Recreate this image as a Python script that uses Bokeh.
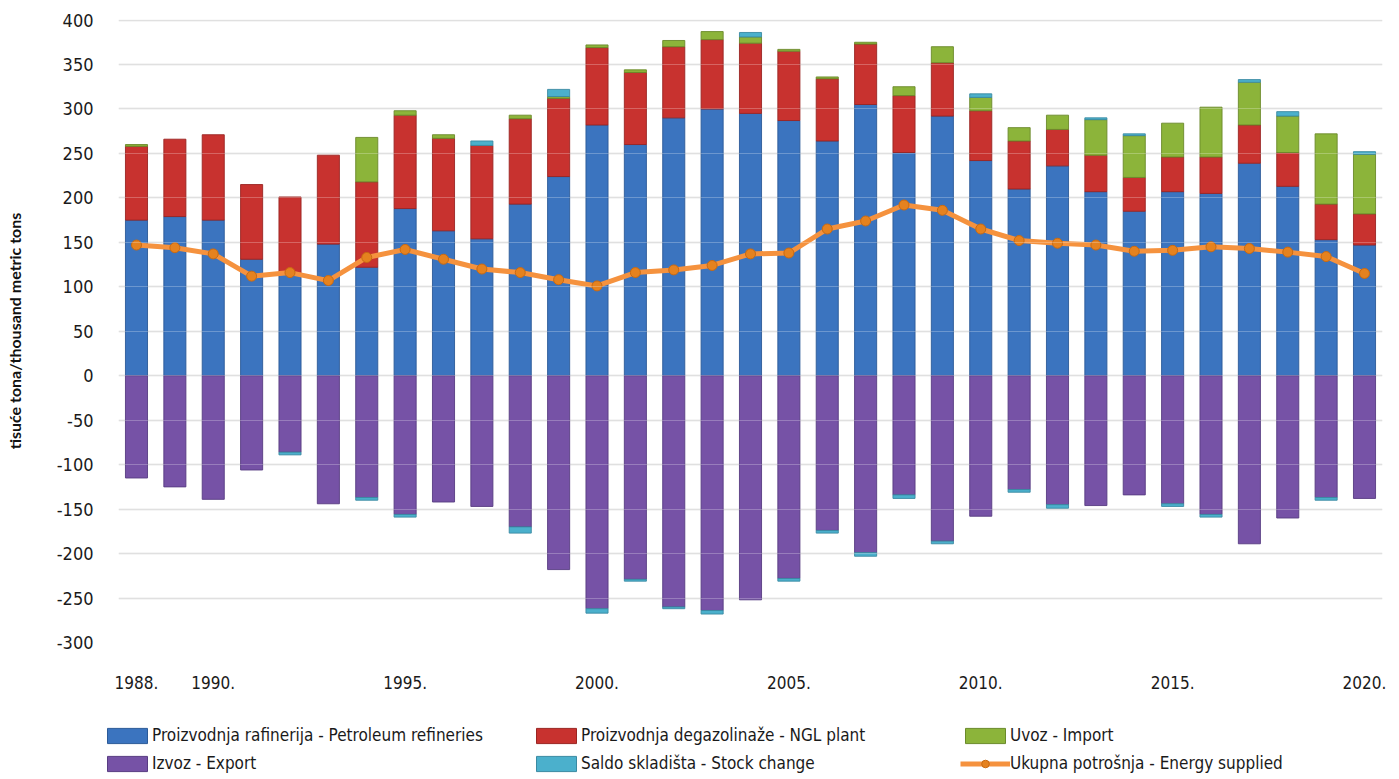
from bokeh.plotting import figure
from bokeh.layouts import column
from bokeh.models import ColumnDataSource, FixedTicker, Legend, LegendItem, Range1d, Grid
from bokeh.embed import file_html
from bokeh.resources import INLINE

# ---------------- data (thousand metric tons) ----------------
years = list(range(1988, 2021))
refineries = [175, 179, 175, 131, 114, 148, 122, 188, 163, 154, 193, 224, 282, 260, 290,
              300, 295, 287, 264, 305, 251, 292, 242, 210, 236, 207, 185, 207, 205, 239,
              213, 153, 147]
ngl_plant = [83, 87, 96, 84, 87, 100, 96, 105, 104, 105, 96, 88, 87, 81, 80,
             78, 79, 78, 70, 68, 64, 60, 56, 54, 41, 41, 38, 39, 41, 43,
             38, 40, 35]
imports = [2, 0, 0, 0, 0, 0, 50, 5, 4, 0, 4, 2, 3, 3, 7,
           9, 7, 2, 2, 2, 10, 18, 15, 15, 16, 40, 47, 38, 56, 48,
           41, 79, 67]
stock_change = [0, 0, 0, 0, -3, 0, -3, -3, 0, 5, -7, 8, -5, -2, -2,
                -4, 5, -3, -3, -4, -4, -3, 4, -3, -4, 2, 2, -3, -3, 3,
                5, -3, 3]
exports = [-115, -125, -139, -106, -86, -144, -137, -156, -142, -147, -170, -218, -262, -229, -260,
           -264, -252, -228, -174, -199, -134, -186, -158, -128, -145, -146, -134, -144, -156, -189,
           -160, -137, -138]
energy_supplied = [147, 144, 137, 112, 116, 107, 133, 142, 131, 120, 116, 108, 101, 116, 119,
                   124, 137, 138, 165, 174, 192, 186, 165, 152, 149, 147, 140, 141, 145, 143,
                   139, 134, 115]

y_ticks = list(range(-300, 401, 50))
x_tick_years = [1988, 1990, 1995, 2000, 2005, 2010, 2015, 2020]
series_labels = [
    "Proizvodnja rafinerija - Petroleum refineries",
    "Proizvodnja degazolinaže - NGL plant",
    "Uvoz - Import",
    "Izvoz - Export",
    "Saldo skladišta - Stock change",
    "Ukupna potrošnja - Energy supplied",
]
y_title = "tisuće tona/thousand metric tons"

# ---------------- styling ----------------
C_BLUE, E_BLUE = "#3b74bf", "#2b5a98"
C_RED, E_RED = "#c8322f", "#9a2522"
C_GREEN, E_GREEN = "#8cb43a", "#6a8a2a"
C_PURPLE, E_PURPLE = "#7652a6", "#583c82"
C_CYAN, E_CYAN = "#4bb0cc", "#3a8aa2"
C_ORANGE = "#f5923e"
C_MARK = "#e5821f"
C_MARK_EDGE = "#c96a12"
FONT = "DejaVu Sans Condensed"

stock_pos = [max(s, 0) for s in stock_change]
stock_neg = [min(s, 0) for s in stock_change]


def edge_alpha(vals):
    # outline only the segments that actually exist
    return [0.9 if v != 0 else 0.0 for v in vals]


src = ColumnDataSource(dict(
    year=years, ref=refineries, ngl=ngl_plant, imp=imports,
    spos=stock_pos, sneg=stock_neg, exp=exports, tot=energy_supplied,
    a_ref=edge_alpha(refineries), a_ngl=edge_alpha(ngl_plant), a_imp=edge_alpha(imports),
    a_spos=edge_alpha(stock_pos), a_sneg=edge_alpha(stock_neg), a_exp=edge_alpha(exports),
))

W = 1396
H_MAIN, H_LEG = 700, 76
FRAME_L, FRAME_R, FRAME_T, FRAME_B = 118, 1382, 19, 642

p = figure(
    width=W, height=H_MAIN,
    x_range=Range1d(1987.531, 2020.469),
    y_range=Range1d(-300, 400.6),
    output_backend="svg", toolbar_location=None,
    min_border_left=FRAME_L, min_border_right=W - FRAME_R, min_border_top=FRAME_T,
    min_border_bottom=H_MAIN - FRAME_B,
)
p.frame_align = False
p.outline_line_color = None
p.background_fill_color = "white"
p.border_fill_color = "white"

BW = 0.575
p.vbar_stack(["ref", "ngl", "imp", "spos"], x="year", width=BW, source=src,
             fill_color=[C_BLUE, C_RED, C_GREEN, C_CYAN],
             line_color=[E_BLUE, E_RED, E_GREEN, E_CYAN],
             line_alpha=["a_ref", "a_ngl", "a_imp", "a_spos"], line_width=1)
p.vbar_stack(["exp", "sneg"], x="year", width=BW, source=src,
             fill_color=[C_PURPLE, C_CYAN], line_color=[E_PURPLE, E_CYAN],
             line_alpha=["a_exp", "a_sneg"], line_width=1)
p.line("year", "tot", source=src, line_color=C_ORANGE, line_width=5, line_join="round")
p.scatter("year", "tot", source=src, size=10, fill_color=C_MARK,
          line_color=C_MARK_EDGE, line_width=1)

# axes
p.xaxis.ticker = FixedTicker(ticks=x_tick_years)
p.xaxis.major_label_overrides = {y: f"{y}." for y in x_tick_years}
p.yaxis.ticker = FixedTicker(ticks=y_ticks)
p.yaxis.major_label_overrides = {t: str(t) for t in y_ticks}
for ax in (p.xaxis[0], p.yaxis[0]):
    ax.axis_line_color = None
    ax.major_tick_line_color = None
    ax.minor_tick_line_color = None
    ax.major_tick_out = 0
    ax.major_tick_in = 0
    ax.minor_tick_out = 0
    ax.minor_tick_in = 0
    ax.major_label_text_font = FONT
    ax.major_label_text_color = "#1a1a1a"
p.xaxis.major_label_text_font_size = "17px"
p.yaxis.major_label_text_font_size = "18px"
p.xaxis.major_label_standoff = 33
p.yaxis.major_label_standoff = 25

p.yaxis.axis_label = y_title
p.yaxis.axis_label_text_font = "Lato"
p.yaxis.axis_label_text_font_style = "bold"
p.yaxis.axis_label_text_font_size = "16px"
p.yaxis.axis_label_text_color = "#111111"
p.yaxis.axis_label_standoff = 30

p.xgrid.grid_line_color = None
p.ygrid.grid_line_color = "#d6d6d6"
p.ygrid.grid_line_width = 1.6
# faint gridline sheen visible across the bars
p.add_layout(Grid(dimension=1, ticker=p.yaxis[0].ticker, level="overlay",
                  grid_line_color="white", grid_line_alpha=0.25, grid_line_width=1.2))

# ---------------- legend strip ----------------
LEG_L = 102
pl = figure(
    width=W, height=H_LEG, x_range=Range1d(0, 1), y_range=Range1d(0, 1),
    output_backend="svg", toolbar_location=None,
    x_axis_location=None, y_axis_location=None,
    min_border_left=LEG_L, min_border_right=W - FRAME_R, min_border_top=0, min_border_bottom=0,
)
pl.frame_align = False
pl.outline_line_color = None
pl.grid.visible = False
# key-only source: one zero-height point placed outside the strip's range
key_src = ColumnDataSource(dict(x=[-5], y=[0]))
leg_bars = [pl.vbar(x="x", top="y", bottom="y", width=0.5, source=key_src,
                    fill_color=c, line_color=e, line_width=1)
            for c, e in ((C_BLUE, E_BLUE), (C_RED, E_RED), (C_GREEN, E_GREEN),
                         (C_PURPLE, E_PURPLE), (C_CYAN, E_CYAN))]
leg_line = pl.line("x", "y", source=key_src, line_color=C_ORANGE, line_width=5)
leg_mark = pl.scatter("x", "y", source=key_src, size=10, fill_color=C_MARK,
                      line_color=C_MARK_EDGE, line_width=1)

legend = Legend(
    items=[
        LegendItem(label=series_labels[0], renderers=[leg_bars[0]]),
        LegendItem(label=series_labels[1], renderers=[leg_bars[1]]),
        LegendItem(label=series_labels[2], renderers=[leg_bars[2]]),
        LegendItem(label=series_labels[3], renderers=[leg_bars[3]]),
        LegendItem(label=series_labels[4], renderers=[leg_bars[4]]),
        LegendItem(label=series_labels[5], renderers=[leg_line, leg_mark]),
    ],
    orientation="horizontal", ncols=3,
    location=(0, 3),
    glyph_width=50, glyph_height=19, label_height=20, label_width=371,
    label_standoff=0, spacing=8, padding=0, margin=0,
    border_line_color=None, background_fill_alpha=0,
    label_text_font=FONT, label_text_font_size="17px", label_text_color="#1a1a1a",
)
pl.add_layout(legend)

layout = column(p, pl, spacing=0)
open("out.html", "w").write(file_html(layout, INLINE))
